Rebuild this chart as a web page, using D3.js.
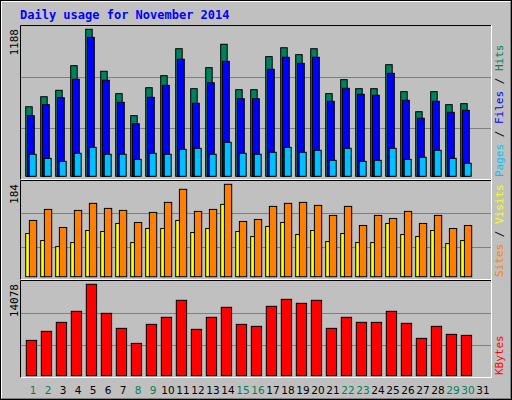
<!DOCTYPE html>
<html><head><meta charset="utf-8">
<script src="https://cdn.jsdelivr.net/npm/d3@7"></script>
<style>body{margin:0;background:#fff}svg{display:block}</style>
</head><body><svg id="c" width="512" height="400"></svg>
<script>
const days = d3.range(1,32);
const weekend = [1,2,8,9,15,16,22,23,29,30];
const hits  = [562,643,695,894,1188,849,668,490,716,813,1031,708,878,1067,700,700,967,1039,983,1031,668,781,708,708,902,684,522,684,579,587];
const files = [490,579,635,784,1123,776,598,425,638,735,946,590,756,929,627,627,865,962,913,962,606,711,663,655,832,614,469,606,517,533];
const pages = [178,145,121,186,234,178,178,137,186,178,218,226,178,275,186,178,194,234,194,210,129,226,121,129,226,137,154,210,145,105];
const visits= [112,134,98,132,146,136,132,108,128,148,174,130,134,184,110,114,140,146,148,142,122,140,102,122,116,130,106,122,96,102];
const sites = [86,72,60,68,92,90,106,68,96,96,112,88,96,144,90,80,100,108,84,92,70,86,68,68,106,84,80,92,66,72];
const kbytes= [5443,6831,8219,9915,14078,9606,7293,4981,7910,8990,11611,7139,8990,10532,7910,7602,10686,11765,11148,11611,7293,8990,8219,8219,9915,8065,5752,7602,6368,6214];
const maxLabels = ["1188","184","14078"];

const svg = d3.select("#c");
const font = "'DejaVu Sans Mono', monospace";
svg.append("rect").attr("x",0).attr("y",0).attr("width",512).attr("height",400).attr("fill","#c0c0c0");
svg.append("rect").attr("x",0.5).attr("y",0.5).attr("width",511).attr("height",399).attr("fill","none").attr("stroke","#000");
svg.append("path").attr("d","M1.5,398.5V1.5H510.5").attr("stroke","#fff").attr("fill","none");
svg.append("path").attr("d","M1.5,398.5H510.5V1.5").attr("stroke","#808080").attr("fill","none");
svg.append("text").attr("x",20).attr("y",19).attr("fill","#0000ff").attr("font-family",font)
  .attr("font-weight","bold").attr("font-size",12).text("Daily usage for November 2014");

const x = d3.scaleLinear().domain([1,32]).range([25.7,25.7+15*31]);

const panels = [
  {top:25, bot:180, base:176.3, ymax:29.3, max:1188, series:[
    {d:hits, c:"#00805c", off:0, w:6.5},
    {d:files,c:"#0000ff", off:1.8, w:6.8},
    {d:pages,c:"#00c0ff", off:3.5, w:7}],
   label:[["Pages","#00c0ff"],[" / ","#000"],["Files","#0000ff"],[" / ","#000"],["Hits","#00805c"]]},
  {top:180, bot:280, base:276.7, ymax:184.3, max:184, series:[
    {d:visits,c:"#ff8000", off:3.7, w:7.3},
    {d:sites, c:"#ffff00", off:0, w:3.7}],
   label:[["Sites","#ff8000"],[" / ","#000"],["Visits","#ffff00"]]},
  {top:280, bot:378, base:375.7, ymax:284.3, max:14078, series:[
    {d:kbytes,c:"#ff0000", off:0.6, w:10.3}],
   label:[["KBytes","#ff0000"]]}
];

panels.forEach((p,pi)=>{
  const y = d3.scaleLinear().domain([0,p.max]).range([p.base,p.ymax]);
  const h = p.bot-p.top;
  [1,2].forEach(k=>{
    const gy = Math.round(p.top + h*k/3)+0.5;
    svg.append("line").attr("x1",21).attr("x2",491).attr("y1",gy).attr("y2",gy).attr("stroke","#808080");
  });
  p.series.forEach(s=>{
    svg.append("g").selectAll("rect").data(s.d).join("rect")
      .attr("x",(v,i)=>x(i+1)+s.off).attr("width",s.w)
      .attr("y",v=>y(v)).attr("height",v=>p.base-y(v))
      .attr("fill",s.c).attr("stroke","#000").attr("stroke-width",1);
  });
  // frame
  svg.append("path").attr("d",`M20.5,${p.bot}V${p.top+0.5}H492`).attr("stroke","#000").attr("fill","none");
  svg.append("path").attr("d",`M20.5,${p.bot-0.5}H491.5V${p.top}`).attr("stroke","#fff").attr("fill","none");
  svg.append("text").attr("transform",`translate(18,${p.top+4}) rotate(-90)`).attr("text-anchor","end")
    .attr("font-family",font).attr("font-size",11).attr("fill","#000").text(maxLabels[pi]);
  const t = svg.append("text").attr("transform",`translate(503,${p.bot-3}) rotate(-90)`)
    .attr("font-family",font).attr("font-size",11);
  p.label.forEach(([s,c])=>t.append("tspan").attr("fill",c).attr("xml:space","preserve").text(s));
});

svg.append("g").selectAll("text").data(days).join("text")
  .attr("x",d=>x(d)+7.3).attr("y",394).attr("text-anchor","middle")
  .attr("font-family","'DejaVu Sans', sans-serif").attr("font-size",10.5)
  .attr("fill",d=>weekend.includes(d)?"#00805c":"#000").text(d=>d);
</script></body></html>
